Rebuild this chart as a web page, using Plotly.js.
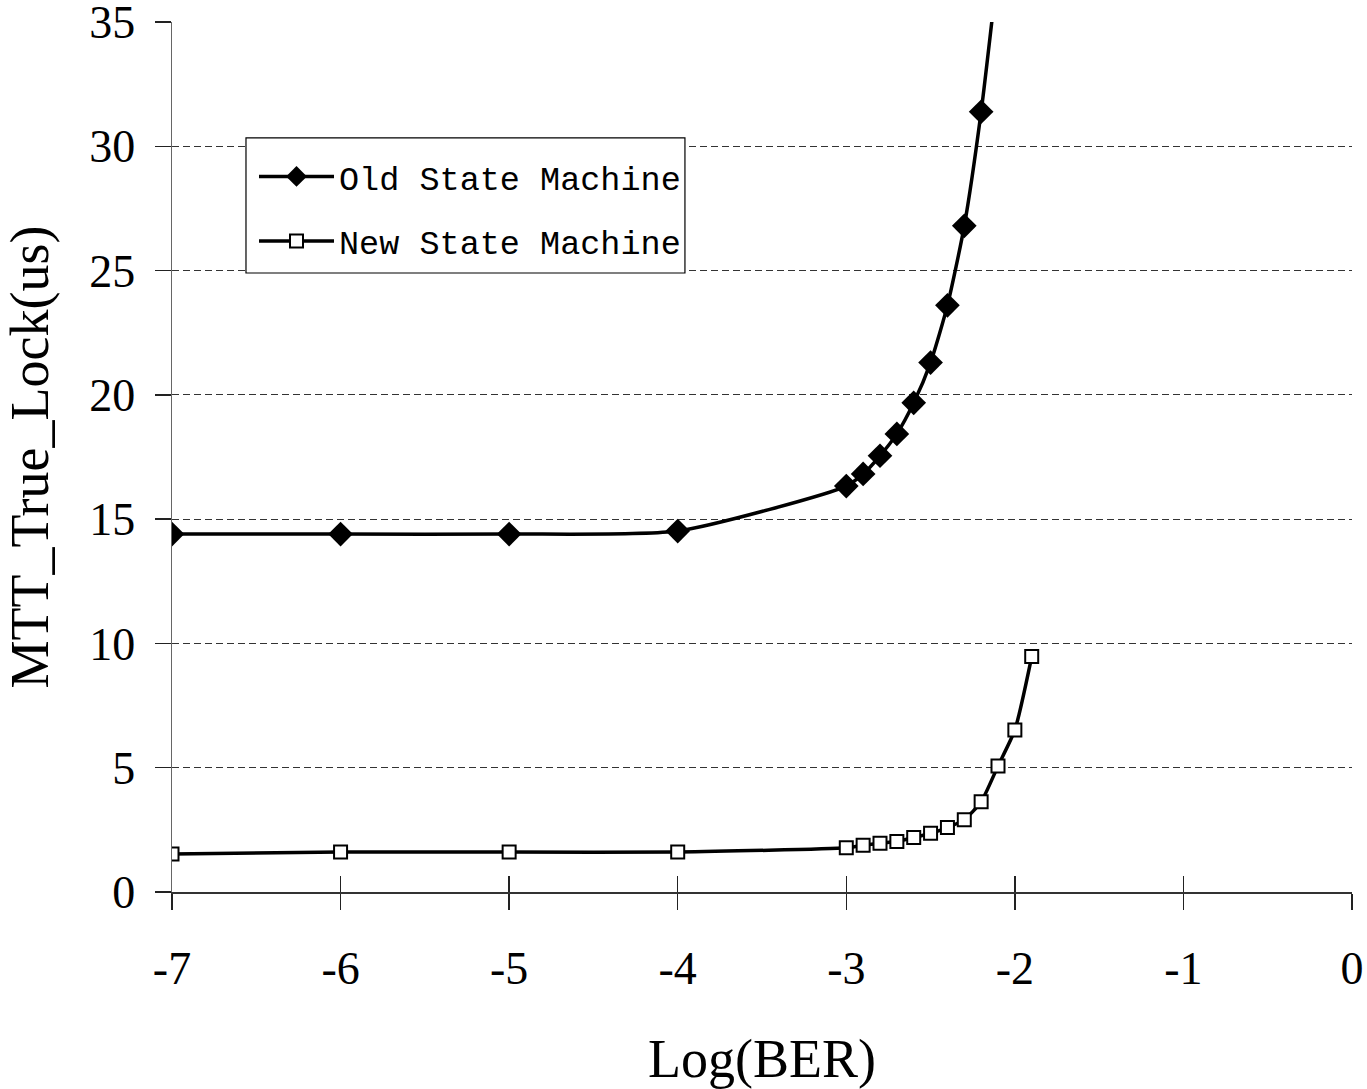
<!DOCTYPE html>
<html>
<head>
<meta charset="utf-8">
<script src="https://cdn.plot.ly/plotly-3.0.1.min.js"></script>
<style>html,body{margin:0;padding:0;background:#fff;}#chart{width:1367px;height:1089px;}</style>
</head>
<body>
<div id="chart"></div>
<script>
// Data
var oldX = [-7, -6, -5, -4, -3, -2.9, -2.8, -2.7, -2.6, -2.5, -2.4, -2.3, -2.2, -2.1];
var oldY = [14.4, 14.4, 14.4, 14.52, 16.33, 16.82, 17.55, 18.43, 19.68, 21.3, 23.6, 26.8, 31.39, 37.2];
var newX = [-7, -6, -5, -4, -3, -2.9, -2.8, -2.7, -2.6, -2.5, -2.4, -2.3, -2.2, -2.1, -2.0, -1.9];
var newY = [1.53, 1.61, 1.61, 1.61, 1.78, 1.88, 1.96, 2.03, 2.19, 2.36, 2.59, 2.91, 3.63, 5.07, 6.52, 9.47];
var seriesNames = ['Old State Machine', 'New State Machine'];
var xTicks = [-7, -6, -5, -4, -3, -2, -1, 0];
var yTicks = [0, 5, 10, 15, 20, 25, 30, 35];

var serif = '"Liberation Serif", "Times New Roman", serif';
var mono = '"Liberation Mono", "Courier New", monospace';

var traces = [
  {
    x: oldX, y: oldY, name: seriesNames[0], type: 'scatter', mode: 'lines+markers',
    legendgroup: 'a',
    line: {color: '#000', width: 3.5, shape: 'spline', smoothing: 0.6},
    marker: {symbol: 'diamond', size: 19, color: '#000', line: {color: '#000', width: 0}},
    cliponaxis: true
  },
  {
    x: newX, y: newY, name: seriesNames[1], type: 'scatter', mode: 'lines+markers',
    xaxis: 'x2', yaxis: 'y',
    legendgroup: 'b',
    line: {color: '#000', width: 3.5, shape: 'spline', smoothing: 0.6},
    marker: {symbol: 'square', size: 13, color: '#fff', line: {color: '#000', width: 2}},
    cliponaxis: true
  }
];

var layout = {
  width: 1367, height: 1089,
  margin: {l: 172, r: 15, t: 22, b: 197},
  paper_bgcolor: '#fff', plot_bgcolor: '#fff',
  showlegend: true,
  legend: {
    x: 0.0695, y: 0.855, xanchor: 'left', yanchor: 'top',
    bgcolor: 'rgba(0,0,0,0)', borderwidth: 0,
    font: {family: mono, size: 33.5, color: '#000'},
    itemwidth: 75, tracegroupgap: 18, traceorder: 'grouped'
  },
  shapes: [
    {type: 'rect', xref: 'paper', yref: 'paper', x0: 0.0627, x1: 0.4347, y0: 0.7115, y1: 0.8667,
     fillcolor: '#fff', line: {color: '#000', width: 1.2}, layer: 'above'}
  ],
  xaxis: {
    range: [-7, 0], tickvals: xTicks, ticktext: xTicks.map(String),
    showgrid: false, zeroline: false,
    showline: true, linecolor: '#333', linewidth: 1.5,
    ticks: 'outside', ticklen: 16, tickcolor: '#222', tickwidth: 1.5,
    ticklabelstandoff: 19,
    tickfont: {family: serif, size: 46, color: '#000'},
    title: {text: 'Log(BER)', font: {family: serif, size: 54, color: '#000'}, standoff: 67},
    fixedrange: true
  },
  xaxis2: {
    range: [-7, 0], tickvals: xTicks, overlaying: 'x', anchor: 'y', side: 'bottom',
    showgrid: false, zeroline: false, showline: false, showticklabels: false,
    ticks: 'inside', ticklen: 16, tickcolor: '#222', tickwidth: 1.5, fixedrange: true
  },
  yaxis: {
    range: [0, 35], tickvals: yTicks, ticktext: yTicks.map(String),
    showgrid: true, gridcolor: '#333', gridwidth: 1, griddash: '7px,4px',
    zeroline: false,
    showline: true, linecolor: '#666', linewidth: 1.5,
    ticks: 'outside', ticklen: 16, tickcolor: '#222', tickwidth: 1.5,
    ticklabelstandoff: 10, ticklabeloverflow: 'allow',
    tickfont: {family: serif, size: 46, color: '#000'},
    title: {text: 'MTT_True_Lock(us)', font: {family: serif, size: 54, color: '#000'}, standoff: 30},
    fixedrange: true
  }
};

Plotly.newPlot('chart', traces, layout, {staticPlot: true, displayModeBar: false});
</script>
</body>
</html>
